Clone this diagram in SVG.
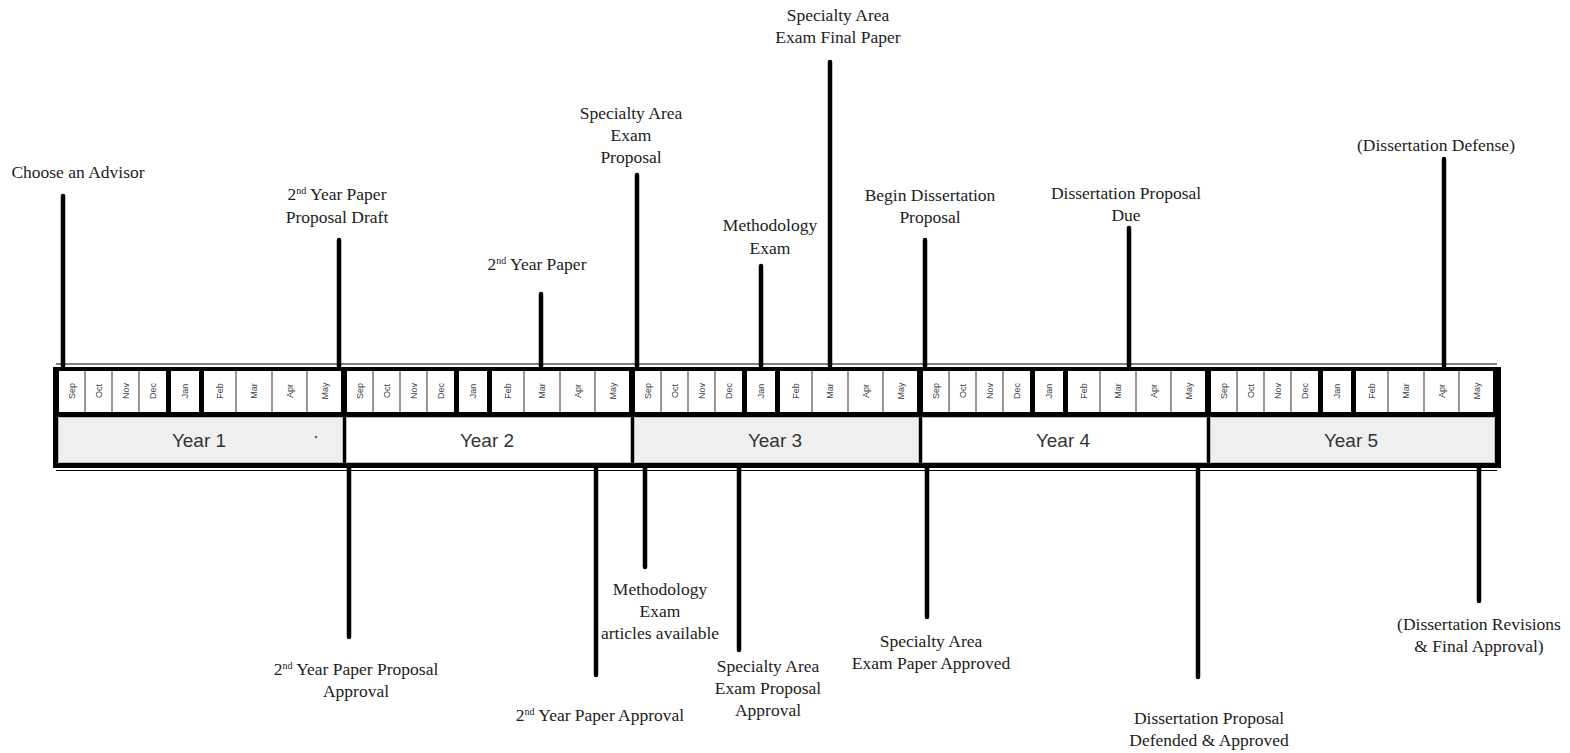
<svg xmlns="http://www.w3.org/2000/svg" width="1570" height="753" viewBox="0 0 1570 753">
<style>
.lbl{font-family:"Liberation Serif","Times New Roman",serif;font-size:17.5px;fill:#222;text-anchor:middle}
.sup{font-size:10px}
.m{font-family:"Liberation Sans",Arial,sans-serif;font-size:9px;fill:#444;text-anchor:middle;dominant-baseline:central}
.yr{font-family:"Liberation Sans",Arial,sans-serif;font-size:19px;fill:#333;text-anchor:middle}
.cell{fill:#fff}
.sep{stroke:#777;stroke-width:1.5}
.conn{stroke:#000;stroke-width:4.5;stroke-linecap:round;fill:none}
.barA{fill:#efefef;stroke:#bbb;stroke-width:1}
.barB{fill:#fff;stroke:#bbb;stroke-width:1}
</style>
<rect width="1570" height="753" fill="#fff"/>
<g id="frame">
<line x1="56" y1="364" x2="1497" y2="364" stroke="#000" stroke-width="1.2"/>
<rect x="53" y="367" width="1448" height="101" fill="#000"/>
<line x1="56" y1="470.5" x2="1497" y2="470.5" stroke="#000" stroke-width="1.2"/>
</g>
<g id="year1" transform="translate(56,0)">
<rect class="cell" x="3" y="371" width="107" height="41"/><rect class="cell" x="115" y="371" width="28" height="41"/><rect class="cell" x="148" y="371" width="137" height="41"/>
<line class="sep" x1="29" y1="371" x2="29" y2="412"/><line class="sep" x1="56" y1="371" x2="56" y2="412"/><line class="sep" x1="83" y1="371" x2="83" y2="412"/><line class="sep" x1="180" y1="371" x2="180" y2="412"/><line class="sep" x1="216" y1="371" x2="216" y2="412"/><line class="sep" x1="251" y1="371" x2="251" y2="412"/>
<text class="m" transform="translate(16,391) rotate(-90)">Sep</text><text class="m" transform="translate(42.5,391) rotate(-90)">Oct</text><text class="m" transform="translate(69.5,391) rotate(-90)">Nov</text><text class="m" transform="translate(97,391) rotate(-90)">Dec</text><text class="m" transform="translate(129,391) rotate(-90)">Jan</text><text class="m" transform="translate(164,391) rotate(-90)">Feb</text><text class="m" transform="translate(198,391) rotate(-90)">Mar</text><text class="m" transform="translate(233.5,391) rotate(-90)">Apr</text><text class="m" transform="translate(268.5,391) rotate(-90)">May</text>
<rect class="barA" x="2.5" y="417.5" width="284" height="45"/>
<text class="yr" x="143" y="447">Year 1</text>
<circle cx="260" cy="437" r="1.3" fill="#666"/>
</g>
<g id="year2" transform="translate(344,0)">
<rect class="cell" x="3" y="371" width="107" height="41"/><rect class="cell" x="115" y="371" width="28" height="41"/><rect class="cell" x="148" y="371" width="137" height="41"/>
<line class="sep" x1="29" y1="371" x2="29" y2="412"/><line class="sep" x1="56" y1="371" x2="56" y2="412"/><line class="sep" x1="83" y1="371" x2="83" y2="412"/><line class="sep" x1="180" y1="371" x2="180" y2="412"/><line class="sep" x1="216" y1="371" x2="216" y2="412"/><line class="sep" x1="251" y1="371" x2="251" y2="412"/>
<text class="m" transform="translate(16,391) rotate(-90)">Sep</text><text class="m" transform="translate(42.5,391) rotate(-90)">Oct</text><text class="m" transform="translate(69.5,391) rotate(-90)">Nov</text><text class="m" transform="translate(97,391) rotate(-90)">Dec</text><text class="m" transform="translate(129,391) rotate(-90)">Jan</text><text class="m" transform="translate(164,391) rotate(-90)">Feb</text><text class="m" transform="translate(198,391) rotate(-90)">Mar</text><text class="m" transform="translate(233.5,391) rotate(-90)">Apr</text><text class="m" transform="translate(268.5,391) rotate(-90)">May</text>
<rect class="barB" x="2.5" y="417.5" width="284" height="45"/>
<text class="yr" x="143" y="447">Year 2</text>
</g>
<g id="year3" transform="translate(632,0)">
<rect class="cell" x="3" y="371" width="107" height="41"/><rect class="cell" x="115" y="371" width="28" height="41"/><rect class="cell" x="148" y="371" width="137" height="41"/>
<line class="sep" x1="29" y1="371" x2="29" y2="412"/><line class="sep" x1="56" y1="371" x2="56" y2="412"/><line class="sep" x1="83" y1="371" x2="83" y2="412"/><line class="sep" x1="180" y1="371" x2="180" y2="412"/><line class="sep" x1="216" y1="371" x2="216" y2="412"/><line class="sep" x1="251" y1="371" x2="251" y2="412"/>
<text class="m" transform="translate(16,391) rotate(-90)">Sep</text><text class="m" transform="translate(42.5,391) rotate(-90)">Oct</text><text class="m" transform="translate(69.5,391) rotate(-90)">Nov</text><text class="m" transform="translate(97,391) rotate(-90)">Dec</text><text class="m" transform="translate(129,391) rotate(-90)">Jan</text><text class="m" transform="translate(164,391) rotate(-90)">Feb</text><text class="m" transform="translate(198,391) rotate(-90)">Mar</text><text class="m" transform="translate(233.5,391) rotate(-90)">Apr</text><text class="m" transform="translate(268.5,391) rotate(-90)">May</text>
<rect class="barA" x="2.5" y="417.5" width="284" height="45"/>
<text class="yr" x="143" y="447">Year 3</text>
</g>
<g id="year4" transform="translate(920,0)">
<rect class="cell" x="3" y="371" width="107" height="41"/><rect class="cell" x="115" y="371" width="28" height="41"/><rect class="cell" x="148" y="371" width="137" height="41"/>
<line class="sep" x1="29" y1="371" x2="29" y2="412"/><line class="sep" x1="56" y1="371" x2="56" y2="412"/><line class="sep" x1="83" y1="371" x2="83" y2="412"/><line class="sep" x1="180" y1="371" x2="180" y2="412"/><line class="sep" x1="216" y1="371" x2="216" y2="412"/><line class="sep" x1="251" y1="371" x2="251" y2="412"/>
<text class="m" transform="translate(16,391) rotate(-90)">Sep</text><text class="m" transform="translate(42.5,391) rotate(-90)">Oct</text><text class="m" transform="translate(69.5,391) rotate(-90)">Nov</text><text class="m" transform="translate(97,391) rotate(-90)">Dec</text><text class="m" transform="translate(129,391) rotate(-90)">Jan</text><text class="m" transform="translate(164,391) rotate(-90)">Feb</text><text class="m" transform="translate(198,391) rotate(-90)">Mar</text><text class="m" transform="translate(233.5,391) rotate(-90)">Apr</text><text class="m" transform="translate(268.5,391) rotate(-90)">May</text>
<rect class="barB" x="2.5" y="417.5" width="284" height="45"/>
<text class="yr" x="143" y="447">Year 4</text>
</g>
<g id="year5" transform="translate(1208,0)">
<rect class="cell" x="3" y="371" width="107" height="41"/><rect class="cell" x="115" y="371" width="28" height="41"/><rect class="cell" x="148" y="371" width="137" height="41"/>
<line class="sep" x1="29" y1="371" x2="29" y2="412"/><line class="sep" x1="56" y1="371" x2="56" y2="412"/><line class="sep" x1="83" y1="371" x2="83" y2="412"/><line class="sep" x1="180" y1="371" x2="180" y2="412"/><line class="sep" x1="216" y1="371" x2="216" y2="412"/><line class="sep" x1="251" y1="371" x2="251" y2="412"/>
<text class="m" transform="translate(16,391) rotate(-90)">Sep</text><text class="m" transform="translate(42.5,391) rotate(-90)">Oct</text><text class="m" transform="translate(69.5,391) rotate(-90)">Nov</text><text class="m" transform="translate(97,391) rotate(-90)">Dec</text><text class="m" transform="translate(129,391) rotate(-90)">Jan</text><text class="m" transform="translate(164,391) rotate(-90)">Feb</text><text class="m" transform="translate(198,391) rotate(-90)">Mar</text><text class="m" transform="translate(233.5,391) rotate(-90)">Apr</text><text class="m" transform="translate(268.5,391) rotate(-90)">May</text>
<rect class="barA" x="2.5" y="417.5" width="284" height="45"/>
<text class="yr" x="143" y="447">Year 5</text>
</g>
<g id="connectors">
<line class="conn" x1="63" y1="196" x2="63" y2="366"/>
<line class="conn" x1="339" y1="240" x2="339" y2="366"/>
<line class="conn" x1="541" y1="294" x2="541" y2="366"/>
<line class="conn" x1="637" y1="175" x2="637" y2="366"/>
<line class="conn" x1="761" y1="266" x2="761" y2="366"/>
<line class="conn" x1="830" y1="62" x2="830" y2="366"/>
<line class="conn" x1="925" y1="240" x2="925" y2="366"/>
<line class="conn" x1="1129" y1="228" x2="1129" y2="366"/>
<line class="conn" x1="1444" y1="159" x2="1444" y2="366"/>
<line class="conn" x1="349" y1="468" x2="349" y2="637"/>
<line class="conn" x1="596" y1="468" x2="596" y2="675"/>
<line class="conn" x1="645" y1="468" x2="645" y2="567"/>
<line class="conn" x1="739" y1="468" x2="739" y2="650"/>
<line class="conn" x1="927" y1="468" x2="927" y2="617"/>
<line class="conn" x1="1198" y1="468" x2="1198" y2="677"/>
<line class="conn" x1="1479" y1="468" x2="1479" y2="601"/>
</g>
<g id="n1"><text class="lbl" x="78" y="178">Choose an Advisor</text></g>
<g id="n2"><text class="lbl" x="337" y="200">2<tspan class="sup" dy="-6">nd</tspan><tspan dy="6"> Year Paper</tspan></text><text class="lbl" x="337" y="223">Proposal Draft</text></g>
<g id="n3"><text class="lbl" x="537" y="270">2<tspan class="sup" dy="-6">nd</tspan><tspan dy="6"> Year Paper</tspan></text></g>
<g id="n4"><text class="lbl" x="631" y="119">Specialty Area</text><text class="lbl" x="631" y="141">Exam</text><text class="lbl" x="631" y="163">Proposal</text></g>
<g id="n5"><text class="lbl" x="770" y="231">Methodology</text><text class="lbl" x="770" y="254">Exam</text></g>
<g id="n6"><text class="lbl" x="838" y="21">Specialty Area</text><text class="lbl" x="838" y="43">Exam Final Paper</text></g>
<g id="n7"><text class="lbl" x="930" y="201">Begin Dissertation</text><text class="lbl" x="930" y="223">Proposal</text></g>
<g id="n8"><text class="lbl" x="1126" y="199">Dissertation Proposal</text><text class="lbl" x="1126" y="221">Due</text></g>
<g id="n9"><text class="lbl" x="1436" y="151">(Dissertation Defense)</text></g>
<g id="n10"><text class="lbl" x="356" y="675">2<tspan class="sup" dy="-6">nd</tspan><tspan dy="6"> Year Paper Proposal</tspan></text><text class="lbl" x="356" y="697">Approval</text></g>
<g id="n11"><text class="lbl" x="600" y="721">2<tspan class="sup" dy="-6">nd</tspan><tspan dy="6"> Year Paper Approval</tspan></text></g>
<g id="n12"><text class="lbl" x="660" y="595">Methodology</text><text class="lbl" x="660" y="617">Exam</text><text class="lbl" x="660" y="639">articles available</text></g>
<g id="n13"><text class="lbl" x="768" y="672">Specialty Area</text><text class="lbl" x="768" y="694">Exam Proposal</text><text class="lbl" x="768" y="716">Approval</text></g>
<g id="n14"><text class="lbl" x="931" y="647">Specialty Area</text><text class="lbl" x="931" y="669">Exam Paper Approved</text></g>
<g id="n15"><text class="lbl" x="1209" y="724">Dissertation Proposal</text><text class="lbl" x="1209" y="746">Defended &amp; Approved</text></g>
<g id="n16"><text class="lbl" x="1479" y="630">(Dissertation Revisions</text><text class="lbl" x="1479" y="652">&amp; Final Approval)</text></g>
</svg>
